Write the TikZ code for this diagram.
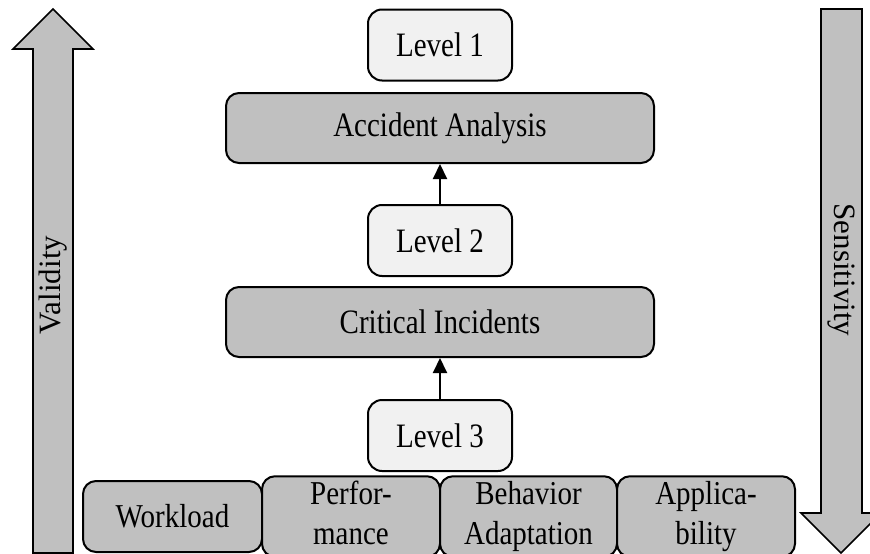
\documentclass[tikz,border=0pt]{standalone}
\usepackage{fontspec}
\usepackage{graphicx}
\setmainfont{Liberation Serif}
\usetikzlibrary{arrows.meta}
\definecolor{boxgrey}{HTML}{C0C0C0}
\definecolor{boxlight}{HTML}{F1F1F1}
% text set slightly taller than wide
\newcommand{\tallone}[1]{\scalebox{1}[1.18]{#1}}
\newcommand{\talltwo}[2]{\raisebox{-3pt}{\scalebox{1}[1.15]{\begin{tabular}{@{}c@{}}#1\\#2\end{tabular}}}}
\begin{document}
\begin{tikzpicture}[x=1pt,y=-1pt,
  every node/.style={font=\fontsize{29}{35}\selectfont, inner sep=0pt, align=center},
  levelbox/.style={draw=black, line width=2pt, fill=boxlight, rounded corners=14pt,
    minimum width=144pt, minimum height=71pt},
  stagebox/.style={draw=black, line width=2pt, fill=boxgrey, rounded corners=13pt,
    minimum width=428pt, minimum height=70pt},
  factorbox/.style={draw=black, line width=2pt, fill=boxgrey, rounded corners=13pt,
    minimum width=178pt, minimum height=71pt},
  sidelabel/.style={font=\fontsize{31}{35}\selectfont},
  bigarrow/.style={draw=black, line width=1.6pt, fill=boxgrey, line join=miter},
  link/.style={draw=black, line width=2pt, -{Triangle[length=15pt,width=14pt]}}]
\useasboundingbox (0,0) rectangle (870,554);
\begin{scope}
\clip (0,0) rectangle (870,554);
% upward arrow on the left
\path[bigarrow] (33,553) -- (33,49) -- (13,49) -- (53,9) -- (93,49) -- (73,49) -- (73,553) -- cycle;
% downward arrow on the right
\path[bigarrow] (821,9) -- (862,9) -- (862,513) -- (881,513) -- (841,553) -- (801,513) -- (821,513) -- cycle;
\end{scope}
\node[sidelabel, rotate=90] (validity) at (53,285) {Validity};
\node[sidelabel, rotate=-90] (sensitivity) at (841,270) {Sensitivity};

% levels and stages
\node[levelbox] (l1) at (440,45) {\tallone{Level 1}};
\node[stagebox] (aa) at (440,128) {\tallone{Accident Analysis}};
\node[levelbox] (l2) at (440,240.5) {\tallone{Level 2}};
\node[stagebox] (ci) at (440,322) {\tallone{Critical Incidents}};
\node[levelbox] (l3) at (440,435.5) {\tallone{Level 3}};

\draw[link] (l2) -- (aa);
\draw[link] (l3) -- (ci);

% factors along the bottom
\node[factorbox, minimum width=179pt] (work) at (172.5,516.5) {\scalebox{1}[1.15]{Workload}};
\node[factorbox] (perf) at (351,516.5) {\talltwo{Perfor-}{mance}};
\node[factorbox, minimum width=177pt] (behav) at (528.5,516.5) {\talltwo{Behavior}{Adaptation}};
\node[factorbox] (appl) at (706,516.5) {\talltwo{Applica-}{bility}};
\end{tikzpicture}
\end{document}
